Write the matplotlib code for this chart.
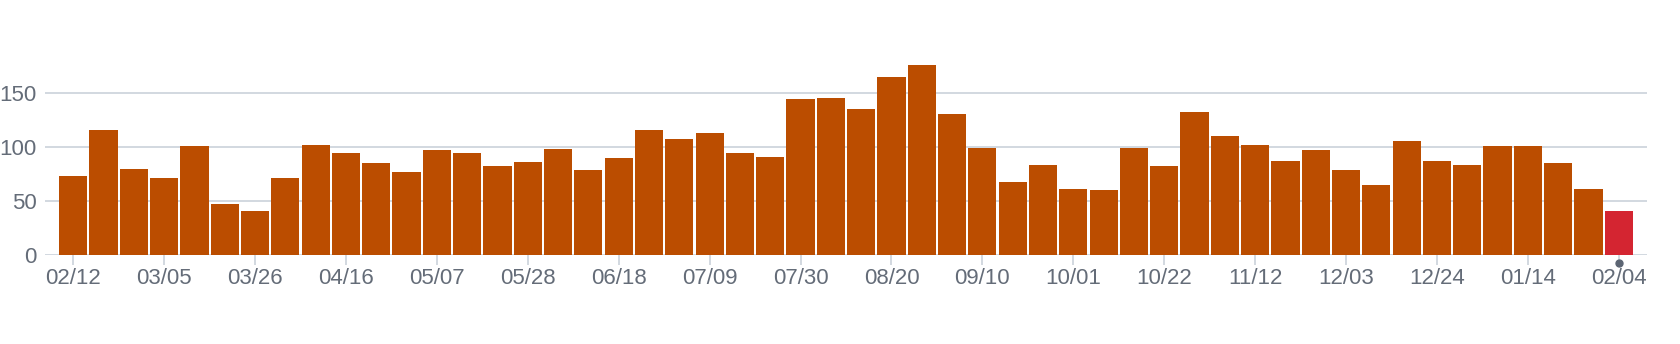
import numpy as np
import matplotlib
matplotlib.use("Agg")
import matplotlib.pyplot as plt

# Weekly counts
semanas = ["02/12", "02/19", "02/26", "03/05", "03/12", "03/19", "03/26", "04/02", "04/09",
           "04/16", "04/23", "04/30", "05/07", "05/14", "05/21", "05/28", "06/04", "06/11",
           "06/18", "06/25", "07/02", "07/09", "07/16", "07/23", "07/30", "08/06", "08/13",
           "08/20", "08/27", "09/03", "09/10", "09/17", "09/24", "10/01", "10/08", "10/15",
           "10/22", "10/29", "11/05", "11/12", "11/19", "11/26", "12/03", "12/10", "12/17",
           "12/24", "12/31", "01/07", "01/14", "01/21", "01/28", "02/04"]
valores = [73, 116, 80, 71, 101, 47, 41, 71, 102, 94, 85, 77, 97, 94, 82, 86, 98, 79,
           90, 116, 107, 113, 94, 91, 144, 145, 135, 165, 176, 131, 99, 68, 83, 61, 60, 99,
           82, 132, 110, 102, 87, 97, 79, 65, 106, 87, 83, 101, 101, 85, 61, 41]
yticks = [0, 50, 100, 150]

color_barra = "#bb4d00"
color_actual = "#d42531"
color_texto = "#646c78"
color_grilla = "#d2d8e0"

plt.rcParams['font.family'] = ['Liberation Sans', 'DejaVu Sans']

fig = plt.figure(figsize=(16.8, 3.44), dpi=100)
ax = fig.add_axes([45 / 1680, 89 / 344, 1602 / 1680, 216 / 344])

x = np.arange(len(valores))
colores = [color_barra] * (len(valores) - 1) + [color_actual]
ax.bar(x, valores, width=0.93, color=colores, zorder=2)

ax.set_xlim(-0.93, len(valores) - 0.07)
ax.set_ylim(0, 200)

ax.set_yticks(yticks)
ax.set_yticklabels([str(v) for v in yticks])
ax.yaxis.grid(True, color=color_grilla, linewidth=1.4, zorder=0)
ax.tick_params(axis="y", length=0, pad=6, labelsize=16, labelcolor=color_texto)

pos = x[::3]
ax.set_xticks(pos)
ax.set_xticklabels([semanas[i] for i in pos])
ax.tick_params(axis="x", length=7.5, width=1.4, color=color_grilla, pad=1.5,
               labelsize=16, labelcolor=color_texto)

for s in ax.spines.values():
    s.set_visible(False)

# punto bajo la semana actual
ax.plot([x[-1]], [-7.5], "o", color="#5c6573", markersize=5, clip_on=False, zorder=3)

fig.savefig("out.png", dpi=100)
